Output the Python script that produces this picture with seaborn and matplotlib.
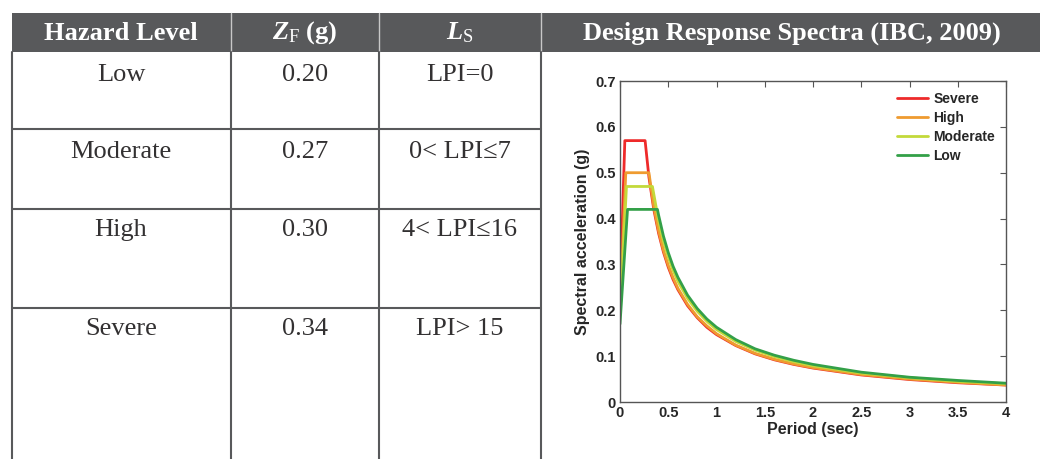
import matplotlib
matplotlib.use("Agg")
import matplotlib.pyplot as plt
import seaborn as sns
import pandas as pd

sns.set_theme(style="white")
plt.rcParams['font.family'] = ['Liberation Serif', 'DejaVu Serif']
plt.rcParams['mathtext.fontset'] = 'custom'
plt.rcParams['mathtext.rm'] = 'Liberation Serif'
plt.rcParams['mathtext.it'] = 'Liberation Serif:italic:bold'
plt.rcParams['mathtext.bf'] = 'Liberation Serif:bold'

# table content
headers = ['Hazard Level', r'$Z_{\mathrm{F}}$ (g)', r'$L_{\mathrm{S}}$',
           'Design Response Spectra (IBC, 2009)']
hazard_levels = ['Low', 'Moderate', 'High', 'Severe']
zf_values = ['0.20', '0.27', '0.30', '0.34']
ls_ranges = ['LPI=0', '0< LPI\u22647', '4< LPI\u226416', 'LPI> 15']

# spectra: period (sec) and spectral acceleration (g)
severe_period = [0, 0.05, 0.26, 0.3, 0.35, 0.4, 0.45, 0.5, 0.55, 0.6, 0.7, 0.8, 0.9,
                 1.0, 1.2, 1.4, 1.6, 1.8, 2.0, 2.5, 3.0, 3.5, 4.0]
severe_sa = [0.23, 0.57, 0.57, 0.49, 0.42, 0.368, 0.327, 0.294, 0.267, 0.245, 0.210,
             0.184, 0.163, 0.147, 0.123, 0.105, 0.092, 0.082, 0.074, 0.059, 0.049,
             0.042, 0.037]
high_period = [0, 0.06, 0.30, 0.35, 0.4, 0.45, 0.5, 0.55, 0.6, 0.7, 0.8, 0.9,
               1.0, 1.2, 1.4, 1.6, 1.8, 2.0, 2.5, 3.0, 3.5, 4.0]
high_sa = [0.20, 0.50, 0.50, 0.426, 0.373, 0.331, 0.298, 0.271, 0.248, 0.213, 0.186,
           0.166, 0.149, 0.124, 0.106, 0.093, 0.083, 0.075, 0.060, 0.050, 0.043, 0.037]
moderate_period = [0, 0.067, 0.336, 0.4, 0.45, 0.5, 0.55, 0.6, 0.7, 0.8, 0.9,
                   1.0, 1.2, 1.4, 1.6, 1.8, 2.0, 2.5, 3.0, 3.5, 4.0]
moderate_sa = [0.19, 0.47, 0.47, 0.395, 0.351, 0.316, 0.287, 0.263, 0.226, 0.198,
               0.176, 0.158, 0.132, 0.113, 0.099, 0.088, 0.079, 0.063, 0.053, 0.045,
               0.040]
low_period = [0, 0.078, 0.388, 0.4, 0.45, 0.5, 0.55, 0.6, 0.7, 0.8, 0.9,
              1.0, 1.2, 1.4, 1.6, 1.8, 2.0, 2.5, 3.0, 3.5, 4.0]
low_sa = [0.17, 0.42, 0.42, 0.4075, 0.362, 0.326, 0.296, 0.272, 0.233, 0.204, 0.181,
          0.163, 0.136, 0.116, 0.102, 0.091, 0.082, 0.065, 0.054, 0.047, 0.041]

series_colors = {'Severe': '#ee2a2a', 'High': '#ef9b30', 'Moderate': '#c3d93a',
                 'Low': '#33a048'}

W, H = 1040, 459
fig = plt.figure(figsize=(W / 100, H / 100), dpi=100)

# full-figure canvas in pixel coordinates for the table
tab = fig.add_axes([0, 0, 1, 1])
tab.set_xlim(0, W)
tab.set_ylim(H, 0)
tab.axis('off')

line_col = '#58595b'
col_edges = [12, 231, 379, 541]
head_top, head_bot = 13, 52
row_lines = [129, 209, 308]

tab.fill_between([12, W], head_top, head_bot, color='#58595b', lw=0)
for x in col_edges[1:]:
    tab.plot([x, x], [head_top, head_bot], color='#c8c8c8', lw=1)
for x in col_edges:
    tab.plot([x, x], [head_bot, H], color=line_col, lw=1.5)
for y in row_lines:
    tab.plot([col_edges[0], col_edges[-1]], [y, y], color=line_col, lw=1.5)

head_x = [121, 305, 460, 792]
for x, txt in zip(head_x, headers):
    tab.text(x, 33, txt, ha='center', va='center', color='white',
             fontsize=19, fontweight='bold')

row_text_y = [75, 152, 230, 329]
for y, a, b, c in zip(row_text_y, hazard_levels, zf_values, ls_ranges):
    tab.text(121, y, a, ha='center', va='center', fontsize=19, color='#333132')
    tab.text(305, y, b, ha='center', va='center', fontsize=19, color='#333132')
    tab.text(460, y, c, ha='center', va='center', fontsize=19, color='#333132')

# spectra chart
frames = []
for name, per, sa in [('Severe', severe_period, severe_sa),
                      ('High', high_period, high_sa),
                      ('Moderate', moderate_period, moderate_sa),
                      ('Low', low_period, low_sa)]:
    frames.append(pd.DataFrame({'Period': per, 'Sa': sa, 'Level': name}))
df = pd.concat(frames, ignore_index=True)

ax = fig.add_axes([620 / W, 1 - 402 / H, 386 / W, 321 / H])
sns.lineplot(data=df, x='Period', y='Sa', hue='Level', palette=series_colors,
             hue_order=['Severe', 'High', 'Moderate', 'Low'], lw=2,
             sort=False, estimator=None, ax=ax)
ax.set_xlim(0, 4)
ax.set_ylim(0, 0.7)
ax.set_xticks([0, 0.5, 1, 1.5, 2, 2.5, 3, 3.5, 4])
ax.set_xticklabels(['0', '0.5', '1', '1.5', '2', '2.5', '3', '3.5', '4'])
ax.set_yticks([0, 0.1, 0.2, 0.3, 0.4, 0.5, 0.6, 0.7])
ax.set_yticklabels(['0', '0.1', '0.2', '0.3', '0.4', '0.5', '0.6', '0.7'])
sans = ['Liberation Sans', 'DejaVu Sans']
for lab in ax.get_xticklabels() + ax.get_yticklabels():
    lab.set_family(sans)
    lab.set_fontweight('bold')
    lab.set_fontsize(10.5)
ax.tick_params(direction='in', length=4, width=0.8, color='#555555',
               top=True, right=True, pad=3)
ax.set_xlabel('Period (sec)', family=sans, fontweight='bold', fontsize=11.5, labelpad=1)
ax.set_ylabel('Spectral acceleration (g)', family=sans, fontweight='bold',
              fontsize=11.5, labelpad=4)
for sp in ax.spines.values():
    sp.set_color('#555555')
    sp.set_linewidth(1)
leg = ax.legend(loc='upper right', frameon=False, prop={'family': sans, 'weight': 'bold',
                                                        'size': 10},
                handlelength=2.2, handletextpad=0.4, labelspacing=0.35,
                borderaxespad=0.4)
for h in leg.get_lines():
    h.set_linewidth(2)

fig.savefig('out.png', dpi=100)
